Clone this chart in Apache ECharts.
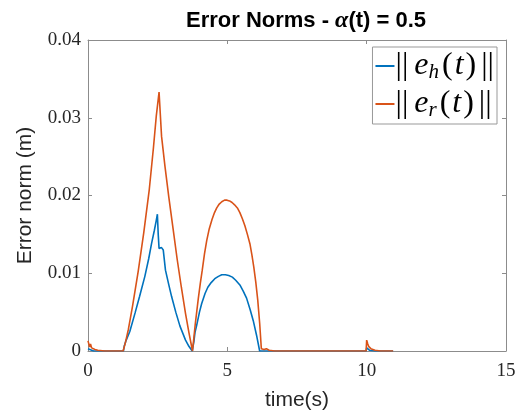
<!DOCTYPE html>
<html>
<head>
<meta charset="utf-8">
<script src="https://cdn.jsdelivr.net/npm/echarts@6/dist/echarts.min.js"></script>
<style>
  html, body { margin: 0; padding: 0; background: #fff; }
  #chart { width: 520px; height: 416px; }
</style>
</head>
<body>
<div id="chart"></div>
<script>
// Time axis ticks and error-norm ticks
const xTicks = [0, 5, 10, 15];
const yTicks = [0, 0.01, 0.02, 0.03, 0.04];

// ||e_h(t)|| samples: [time (s), norm (m)]
const ehNorm = [
  [0, 0.0003], [0.05, 0.0001], [0.2, 0], [1.27, 0],
  [1.3, 0.0006], [1.35, 0.0012], [1.5, 0.0025], [1.69, 0.0049], [1.85, 0.0070],
  [2.04, 0.0096], [2.18, 0.0119], [2.28, 0.0138], [2.38, 0.0155], [2.44, 0.0166],
  [2.49, 0.0176], [2.52, 0.0150], [2.55, 0.0132], [2.6, 0.0134], [2.64, 0.0133],
  [2.7, 0.0130], [2.78, 0.0104], [2.9, 0.0085], [3.0, 0.0070], [3.15, 0.0050],
  [3.3, 0.0032], [3.5, 0.0014], [3.62, 0.0006], [3.74, 0],
  [3.8, 0.0012], [3.84, 0.0024], [3.9, 0.0033], [4.0, 0.0050], [4.08, 0.0061],
  [4.2, 0.0074], [4.3, 0.0082], [4.42, 0.0088], [4.55, 0.0093], [4.68, 0.0096],
  [4.8, 0.0098], [4.93, 0.0098], [5.05, 0.0097], [5.18, 0.0095], [5.3, 0.0091],
  [5.45, 0.0085], [5.57, 0.0077], [5.69, 0.0068], [5.82, 0.0053], [5.93, 0.0039],
  [6.05, 0.0020], [6.16, 0],
  [9.98, 0], [10.0, 0.0004], [10.1, 0.0001], [10.3, 0], [10.95, 0]
];

// ||e_r(t)|| samples: [time (s), norm (m)]
const erNorm = [
  [0, 0.0013], [0.03, 0.0011], [0.06, 0.0005], [0.09, 0.0009], [0.13, 0.0004],
  [0.18, 0.0006], [0.25, 0.0002], [0.35, 0.0001], [0.6, 0], [1.26, 0],
  [1.35, 0.0012], [1.45, 0.0028], [1.6, 0.0058], [1.8, 0.0102], [2.0, 0.0152],
  [2.2, 0.0208], [2.35, 0.0262], [2.45, 0.0302], [2.55, 0.0333], [2.64, 0.0276],
  [2.76, 0.0238], [2.9, 0.0198], [3.05, 0.0158], [3.2, 0.0118], [3.35, 0.0082],
  [3.5, 0.0048], [3.62, 0.0024], [3.75, 0],
  [3.85, 0.0035], [3.96, 0.0068], [4.03, 0.0087], [4.1, 0.0104], [4.18, 0.0125],
  [4.26, 0.0142], [4.35, 0.0157], [4.45, 0.0169], [4.54, 0.0178], [4.62, 0.0184],
  [4.71, 0.0189], [4.8, 0.0192], [4.9, 0.0194], [4.99, 0.0194], [5.08, 0.0193],
  [5.17, 0.0191], [5.26, 0.0188], [5.36, 0.0184], [5.45, 0.0178], [5.54, 0.0170],
  [5.63, 0.0161], [5.72, 0.0150], [5.81, 0.0138], [5.88, 0.0124], [5.95, 0.0108],
  [6.02, 0.0089], [6.09, 0.0066], [6.16, 0.0036], [6.22, 0.0003], [6.27, 0.0005],
  [6.32, 0.0002], [6.4, 0.0003], [6.5, 0.0001], [6.7, 0],
  [9.98, 0], [10.0, 0.0014], [10.04, 0.0009], [10.07, 0.0006], [10.1, 0.0007],
  [10.15, 0.0003], [10.22, 0.0003], [10.3, 0.0001], [10.5, 0], [10.95, 0]
];

const seriesNames = ['eh', 'er'];
const legendLabels = {
  eh: '{b|||}{i|e}{s|h}{n|(}{i|t}{n|)}{c|||}',
  er: '{b|||}{i|e}{s|r}{n|(}{i|t}{n|)}{c|||}'
};

const serif = '"Liberation Serif", "DejaVu Serif", serif';
const sans = '"Liberation Sans", Arial, Helvetica, sans-serif';
const axisGray = '#8c8c8c';
const tickText = '#262626';

const chart = echarts.init(document.getElementById('chart'), null, { renderer: 'canvas' });

const grid = { left: 88, right: 14, top: 40, bottom: 63, containLabel: false };

const option = {
  animation: false,
  backgroundColor: '#ffffff',
  title: {
    text: '{b|Error Norms - }{a|α}{b|(t) = 0.5}',
    left: 301, top: 4, textAlign: 'center',
    textStyle: {
      rich: {
        b: { fontFamily: sans, fontWeight: 'bold', fontSize: 22, color: '#000' },
        a: { fontFamily: serif, fontStyle: 'italic', fontSize: 24, color: '#000' }
      }
    }
  },
  grid: grid,
  legend: {
    data: seriesNames,
    orient: 'vertical',
    right: 23, top: 47,
    itemWidth: 19, itemHeight: 2, itemGap: 5,
    icon: 'rect',
    padding: [3, 3, 3, 3],
    borderColor: '#999', borderWidth: 1,
    backgroundColor: '#fff',
    formatter: name => legendLabels[name],
    textStyle: {
      padding: [0, 0, 0, -4],
      rich: {
        b: { fontFamily: serif, fontSize: 32, color: '#000', padding: [0, 6, 0, 0] },
        c: { fontFamily: serif, fontSize: 32, color: '#000', padding: [0, 0, 0, 3] },
        n: { fontFamily: serif, fontSize: 32, color: '#000', padding: [0, 2, 0, 2] },
        i: { fontFamily: serif, fontStyle: 'italic', fontSize: 32, color: '#000' },
        s: { fontFamily: serif, fontStyle: 'italic', fontSize: 21, color: '#000', verticalAlign: 'bottom', padding: [13, 1, 0, 0] }
      }
    }
  },
  xAxis: [
    {
      type: 'value', min: xTicks[0], max: xTicks[xTicks.length - 1], interval: 5,
      position: 'bottom',
      name: 'time(s)', nameLocation: 'middle', nameGap: 39,
      nameTextStyle: { fontFamily: sans, fontSize: 21, color: tickText },
      axisLine: { show: true, onZero: false, lineStyle: { color: axisGray, width: 1 } },
      axisTick: { show: true, inside: true, length: 4, lineStyle: { color: axisGray } },
      axisLabel: { fontFamily: serif, fontSize: 19, color: tickText, margin: 11,
        formatter: v => String(v) },
      splitLine: { show: false }
    },
    {
      type: 'value', min: 0, max: 15, interval: 5, position: 'top',
      axisLine: { show: true, onZero: false, lineStyle: { color: axisGray, width: 1 } },
      axisTick: { show: true, inside: true, length: 4, lineStyle: { color: axisGray } },
      axisLabel: { show: false }, splitLine: { show: false }
    }
  ],
  yAxis: [
    {
      type: 'value', min: yTicks[0], max: yTicks[yTicks.length - 1], interval: 0.01,
      position: 'left',
      name: 'Error norm (m)', nameLocation: 'middle', nameGap: 52,
      nameTextStyle: { fontFamily: sans, fontSize: 21, color: tickText },
      axisLine: { show: true, onZero: false, lineStyle: { color: axisGray, width: 1 } },
      axisTick: { show: true, inside: true, length: 4, lineStyle: { color: axisGray } },
      axisLabel: { fontFamily: serif, fontSize: 19, color: tickText, margin: 7,
        formatter: v => (v === 0 ? '0' : v.toFixed(2)) },
      splitLine: { show: false }
    },
    {
      type: 'value', min: 0, max: 0.04, interval: 0.01, position: 'right',
      axisLine: { show: true, onZero: false, lineStyle: { color: axisGray, width: 1 } },
      axisTick: { show: true, inside: true, length: 4, lineStyle: { color: axisGray } },
      axisLabel: { show: false }, splitLine: { show: false }
    }
  ],
  series: [
    {
      name: 'eh', type: 'line', data: ehNorm, xAxisIndex: 0, yAxisIndex: 0,
      showSymbol: false, smooth: false, z: 2,
      lineStyle: { color: '#0072BD', width: 1.6 }, itemStyle: { color: '#0072BD' }
    },
    {
      name: 'er', type: 'line', data: erNorm, xAxisIndex: 0, yAxisIndex: 0,
      showSymbol: false, smooth: false, z: 3,
      lineStyle: { color: '#D95319', width: 1.6 }, itemStyle: { color: '#D95319' }
    }
  ]
};

chart.setOption(option);
</script>
</body>
</html>
